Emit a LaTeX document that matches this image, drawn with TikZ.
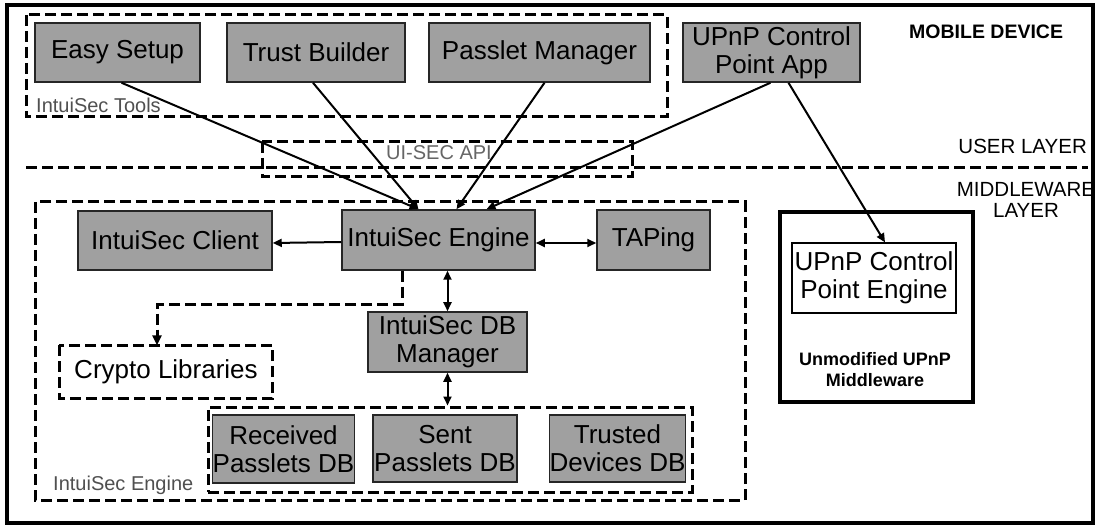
\documentclass[tikz,border=0pt]{standalone}
\usepackage{fontspec}
\setmainfont{Liberation Sans}
\usetikzlibrary{arrows.meta,calc}
\definecolor{boxgray}{RGB}{160,160,160}
\definecolor{labelgray}{RGB}{80,80,80}
\begin{document}
\begin{tikzpicture}[x=1pt,y=-1pt,
  gbox/.style={draw=black!85,line width=1.5pt,fill=boxgray,inner sep=0pt,align=center,
    font=\fontsize{26pt}{28pt}\selectfont},
  wbox/.style={draw=black,line width=1.2pt,fill=white,inner sep=0pt,align=center,
    font=\fontsize{26pt}{28pt}\selectfont},
  dashbox/.style={draw=black,line width=3pt,dash pattern=on 11pt off 5pt},
  grouplabel/.style={text=labelgray,inner sep=0pt,anchor=west,font=\fontsize{20pt}{22pt}\selectfont},
  layerlabel/.style={inner sep=0pt,align=center,font=\fontsize{20.5pt}{21pt}\selectfont},
  conn/.style={line width=2pt,-{Triangle[length=9pt,width=8pt]}},
  biconn/.style={line width=2pt,{Triangle[length=9pt,width=8pt]}-{Triangle[length=9pt,width=8pt]}},
  dashconn/.style={line width=3pt,dash pattern=on 11pt off 5pt,
    -{Triangle[length=10pt,width=9pt]}}
]
\useasboundingbox (0,0) rectangle (1095,529);
\fill[white] (0,0) rectangle (1095,529);

% device frame
\draw[line width=3.5pt] (7,5) rectangle (1093,523);

% layer separator
\draw[dashbox] (26,168) -- (1088,168);
\node[layerlabel,anchor=east] (userlayer) at (1087,146) {USER LAYER};
\node[layerlabel] (mwlayer) at (1026,200) {MIDDLEWARE\\LAYER};
\node[inner sep=0pt,anchor=west,font=\fontsize{19.5pt}{20pt}\selectfont\bfseries] (mobile) at (909,32) {MOBILE DEVICE};

% user tools group
\draw[dashbox] (26,15) rectangle (667,117);
\node[grouplabel] (toolslbl) at (36,105) {IntuiSec Tools};
\node[gbox,minimum width=165pt,minimum height=59pt] (easy) at (117.5,52.5) {Easy Setup};
\node[gbox,minimum width=178pt,minimum height=59pt] (trust) at (316,52.5) {Trust Builder};
\node[gbox,minimum width=221pt,minimum height=59pt] (passlet) at (539.5,52.5) {Passlet Manager};
\node[gbox,minimum width=177pt,minimum height=59pt] (app) at (771.5,52.5) {UPnP Control\\Point App};

% API band
\draw[dashbox] (262,142) rectangle (632,177);
\node[grouplabel,text=black!60] (apilbl) at (386,153) {UI-SEC API};

% IntuiSec engine group
\draw[dashbox] (35,202) rectangle (745,500);
\node[grouplabel] (englbl) at (53,485) {IntuiSec Engine};
\node[gbox,minimum width=194pt,minimum height=59pt] (client) at (175,240.5) {IntuiSec Client};
\node[gbox,minimum width=193pt,minimum height=60pt] (engine) at (438.5,240) {IntuiSec Engine};
\node[gbox,minimum width=113pt,minimum height=60pt] (taping) at (653.5,240) {TAPing};
\node[wbox,draw=none,fill=none,minimum width=212pt,minimum height=52pt] (crypto) at (166,372) {Crypto Libraries};
\draw[dashbox] (crypto.north west) rectangle (crypto.south east);
\node[gbox,minimum width=159pt,minimum height=60pt] (dbman) at (447.5,342) {IntuiSec DB\\Manager};

% database group
\node[dashbox,inner sep=0pt,minimum width=484pt,minimum height=85pt] (dbgroup) at (450,449.5) {};
\node[gbox,minimum width=133pt,minimum height=68pt] (received) at (283.5,449) {Received\\Passlets DB};
\node[gbox,minimum width=144pt,minimum height=67pt] (sent) at (445,448.5) {Sent\\Passlets DB};
\node[gbox,minimum width=131pt,minimum height=67pt] (trusted) at (617.5,448.5) {Trusted\\Devices DB};

% unmodified middleware
\node[draw,line width=3.5pt,inner sep=0pt,minimum width=193pt,minimum height=190pt] (mw) at (876.5,307) {};
\node[wbox,minimum width=164pt,minimum height=70pt] (cp) at (874,278) {UPnP Control\\Point Engine};
\node[inner sep=0pt,align=center,font=\fontsize{18pt}{21pt}\selectfont\bfseries] (mwlbl) at (875,370) {Unmodified UPnP\\Middleware};

% connectors into the engine
\draw[conn] ([xshift=4pt]easy.south) -- ([xshift=-20pt]engine.north);
\draw[conn] ([xshift=-3pt]trust.south) -- ([xshift=-20pt]engine.north);
\draw[conn] ([xshift=5pt]passlet.south) -- ([xshift=18pt]engine.north);
\draw[conn] ([xshift=-1pt]app.south) -- ([xshift=48pt]engine.north);
\draw[conn] ([xshift=17pt]app.south) -- ([xshift=11pt]cp.north);

% engine internals
\draw[conn] ([yshift=-2pt]engine.west) -- ([yshift=-2.5pt]client.east);
\draw[biconn] ([yshift=-3pt]engine.east) -- ([yshift=-3pt]taping.west);
\draw[biconn] (engine.south -| dbman.north) -- (dbman.north);
\draw[biconn] (dbman.south) -- (dbman.south |- dbgroup.north);
\draw[dashconn] ([xshift=-36.5pt]engine.south) -- ++(0,34) -| ([xshift=-9pt]crypto.north);
\end{tikzpicture}
\end{document}
